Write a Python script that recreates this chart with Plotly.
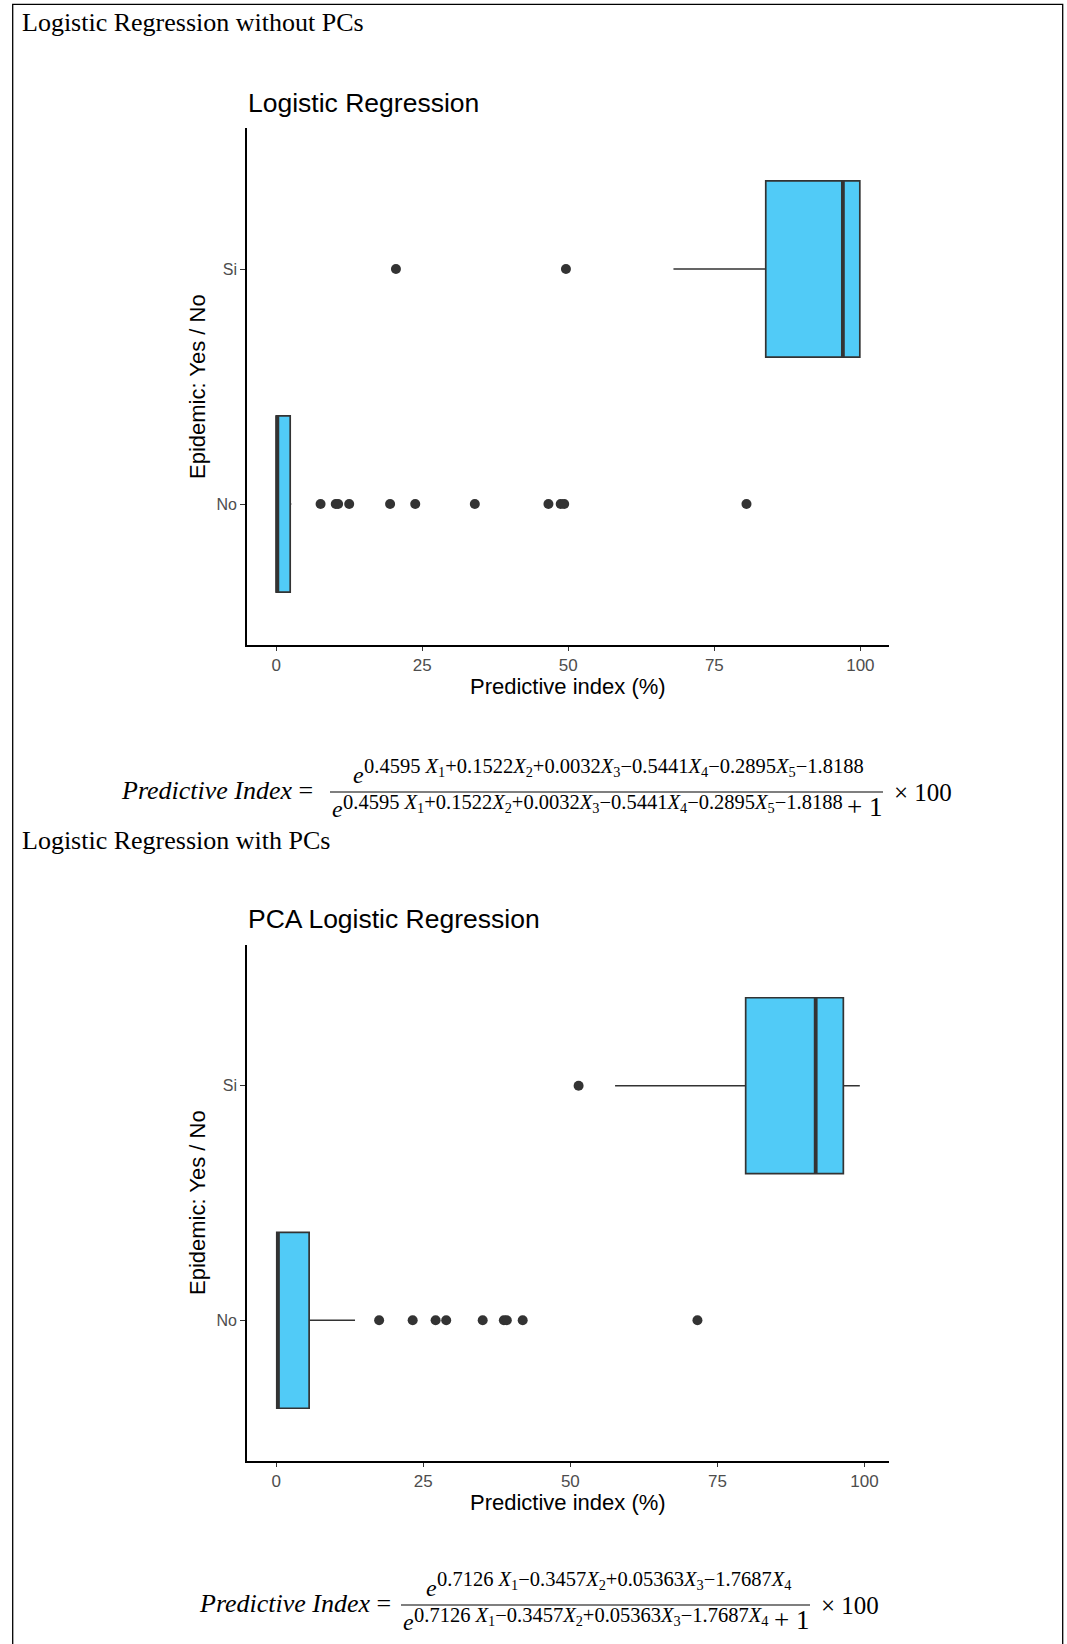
import plotly.graph_objects as go

# ---------------- data ----------------
categories = ["No", "Si"]

# Logistic Regression (without PCs) - box statistics per category
lr_q1 = [0.0, 83.8]
lr_median = [0.2, 97.0]
lr_q3 = [2.4, 99.9]
lr_lower = [0.0, 68.0]
lr_upper = [2.6, 99.9]
lr_no_outliers = [7.6, 10.2, 10.6, 12.5, 19.5, 23.8, 34.0, 46.6, 48.7, 49.3, 80.5]
lr_si_outliers = [20.5, 49.6]

# PCA Logistic Regression - box statistics per category
pca_q1 = [0.1, 79.8]
pca_median = [0.3, 91.7]
pca_q3 = [5.6, 96.4]
pca_lower = [0.0, 57.6]
pca_upper = [13.4, 99.2]
pca_no_outliers = [17.5, 23.2, 27.1, 28.9, 35.1, 38.7, 39.2, 41.9, 71.6]
pca_si_outliers = [51.4]

x_ticks = [0, 25, 50, 75, 100]

# ---------------- layout helpers ----------------
W, H = 1067, 1644
def X(px):
    return px / W
def Y(py):
    return 1 - py / H

FILL = "#51CBF7"
EDGE = "#333333"
SANS = "Liberation Sans, Arial, sans-serif"
SERIF = "Liberation Serif, Times New Roman, serif"
BOX_W = 0.75

fig = go.Figure()

def add_panel(q1, med, q3, lo, hi, no_out, si_out, xa, ya):
    fig.add_trace(go.Box(
        y=categories, q1=q1, median=med, q3=q3,
        lowerfence=lo, upperfence=hi, orientation="h",
        fillcolor=FILL, line=dict(color=EDGE, width=1.7),
        whiskerwidth=0, width=BOX_W, boxpoints=False,
        xaxis=xa, yaxis=ya, showlegend=False, hoverinfo="x"))
    fig.add_trace(go.Scatter(
        x=no_out + si_out,
        y=["No"] * len(no_out) + ["Si"] * len(si_out),
        mode="markers", marker=dict(color=EDGE, size=10),
        xaxis=xa, yaxis=ya, showlegend=False))
    # thicker median line (ggplot style)
    for i, m in enumerate(med):
        fig.add_shape(type="line", xref=xa, yref=ya,
                      x0=m, x1=m, y0=i - BOX_W / 2, y1=i + BOX_W / 2,
                      line=dict(color=EDGE, width=3.8))
    vals = lo + hi + q1 + q3 + no_out + si_out
    mn, mx = min(vals), max(vals)
    pad = 0.05 * (mx - mn)
    return [mn - pad, mx + pad]

r1 = add_panel(lr_q1, lr_median, lr_q3, lr_lower, lr_upper,
               lr_no_outliers, lr_si_outliers, "x", "y")
r2 = add_panel(pca_q1, pca_median, pca_q3, pca_lower, pca_upper,
               pca_no_outliers, pca_si_outliers, "x2", "y2")

xcommon = dict(showline=True, linecolor="black", linewidth=1.7, zeroline=False,
               showgrid=False, ticks="outside", ticklen=4, tickwidth=1.2,
               tickcolor=EDGE, tickvals=x_ticks,
               tickfont=dict(family=SANS, size=17, color="#4D4D4D"))
ycommon = dict(showline=True, linecolor="black", linewidth=1.7, zeroline=False,
               showgrid=False, ticks="outside", ticklen=5, tickwidth=1.2,
               tickcolor=EDGE, type="category", categoryorder="array",
               categoryarray=categories, range=[-0.6, 1.6],
               tickfont=dict(family=SANS, size=16, color="#4D4D4D"))

fig.update_layout(
    width=W, height=H, margin=dict(l=0, r=0, t=0, b=0),
    paper_bgcolor="white", plot_bgcolor="white",
    xaxis=dict(domain=[X(247), X(889)], anchor="y", range=r1, **xcommon),
    yaxis=dict(domain=[Y(645), Y(128)], anchor="x", **ycommon),
    xaxis2=dict(domain=[X(247), X(889)], anchor="y2", range=r2, **xcommon),
    yaxis2=dict(domain=[Y(1461), Y(945)], anchor="x2", **ycommon),
)

ann = []
def text(x, y, t, size, family=SANS, xanchor="left", yanchor="middle",
         color="black", angle=0):
    ann.append(dict(x=X(x), y=Y(y), xref="paper", yref="paper", text=t,
                    showarrow=False, xanchor=xanchor, yanchor=yanchor,
                    textangle=angle,
                    font=dict(family=family, size=size, color=color)))

def btext(x, baseline, t, size, xanchor="left"):
    # serif text placed by its baseline (box top = baseline - ascent - pad)
    text(x, baseline - 0.891 * size - 1, t, size, SERIF, xanchor=xanchor, yanchor="top")

# section headings
text(20, 23, "Logistic Regression without PCs", 26, SERIF)
text(20, 840, "Logistic Regression with PCs", 26, SERIF)

# plot titles
text(246, 103, "Logistic Regression", 26.5)
text(246, 919, "PCA Logistic Regression", 26.5)

# axis titles
text(568, 686, "Predictive index (%)", 22, xanchor="center")
text(568, 1502, "Predictive index (%)", 22, xanchor="center")
text(197, 387, "Epidemic: Yes / No", 22, xanchor="center", angle=-90)
text(197, 1203, "Epidemic: Yes / No", 22, xanchor="center", angle=-90)

# formulas
exp1 = ("0.4595 <i>X</i><sub>1</sub>+0.1522<i>X</i><sub>2</sub>+0.0032<i>X</i><sub>3</sub>"
        "\u22120.5441<i>X</i><sub>4</sub>\u22120.2895<i>X</i><sub>5</sub>\u22121.8188")
exp2 = ("0.7126 <i>X</i><sub>1</sub>\u22120.3457<i>X</i><sub>2</sub>+0.05363<i>X</i><sub>3</sub>"
        "\u22121.7687<i>X</i><sub>4</sub>")

EXP_SIZE = 20.5

def formula(label_right, line_x0, line_x1, line_y, exp,
            num_e_x, den_plus_x, times_x):
    btext(label_right, line_y + 6, "<i>Predictive Index</i> =", 26, xanchor="right")
    # numerator
    btext(num_e_x, line_y - 10, "<i>e</i>", 24)
    btext(num_e_x + 11, line_y - 20, exp, EXP_SIZE)
    # denominator
    btext(line_x0, line_y + 24, "<i>e</i>", 24)
    btext(line_x0 + 11, line_y + 16, exp, EXP_SIZE)
    btext(den_plus_x, line_y + 23, "+ 1", 27)
    # x 100
    btext(times_x, line_y + 8, "\u00d7 100", 25)
    fig.add_shape(type="line", xref="paper", yref="paper",
                  x0=X(line_x0), x1=X(line_x1), y0=Y(line_y), y1=Y(line_y),
                  line=dict(color="black", width=1.2))

formula(315, 330, 883, 792, exp1, 351, 845, 892)
formula(393, 401, 810, 1605, exp2, 424, 772, 819)

fig.update_layout(annotations=ann)

# outer frame
fig.add_shape(type="rect", xref="paper", yref="paper",
              x0=X(12.7), x1=X(1062.7), y0=Y(4.3), y1=Y(1660),
              line=dict(color="black", width=1.3), fillcolor="rgba(0,0,0,0)")

fig.write_html("out.html", config={"displayModeBar": False},
               post_script="document.body.style.margin='0px';")
